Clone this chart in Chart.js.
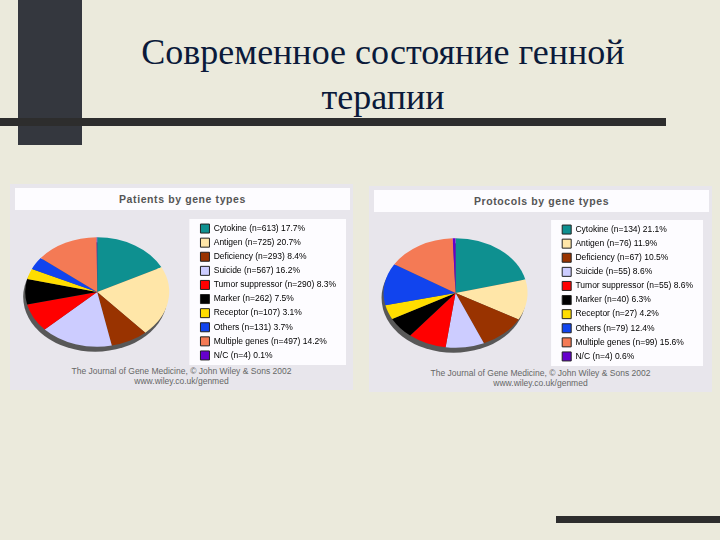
<!DOCTYPE html>
<html>
<head>
<meta charset="utf-8">
<script src="https://cdn.jsdelivr.net/npm/chart.js@4"></script>
<style>
  body { margin:0; width:720px; height:540px; background:#ebeadc; position:relative; overflow:hidden; font-family:"Liberation Sans", Arial, sans-serif; }
  .bar { position:absolute; background:#2d2d2d; }
  .title { position:absolute; left:100px; width:566px; top:30px; text-align:center; font-family:"Liberation Serif","Times New Roman",serif; font-size:36px; line-height:45px; color:#0b1a3a; }
  .panel { position:absolute; background:#e8e6ec; width:343px; height:206px; }
  .head { position:absolute; left:5px; right:3px; top:4px; height:22px; background:#fdfcff; text-align:center; font-weight:bold; font-size:10.5px; line-height:22px; color:#555; letter-spacing:0.6px; }
  .foot { position:absolute; left:0; right:0; bottom:4px; text-align:center; font-size:8.5px; line-height:10px; color:#666; }
  canvas { position:absolute; }
</style>
</head>
<body>
<div class="bar" style="left:18px;top:0;width:64px;height:145px;background:#34373e"></div>
<div class="bar" style="left:0;top:118px;width:666px;height:8px"></div>
<div class="bar" style="left:556px;top:516px;width:164px;height:7px"></div>
<div class="title">Современное состояние генной<br>терапии</div>

<div class="panel" style="left:10px;top:184px">
  <div class="head">Patients by gene types</div>
  <div class="foot">The Journal of Gene Medicine, © John Wiley &amp; Sons 2002<br>www.wiley.co.uk/genmed</div>
</div>
<div class="panel" style="left:369px;top:186px">
  <div class="head">Protocols by gene types</div>
  <div class="foot">The Journal of Gene Medicine, © John Wiley &amp; Sons 2002<br>www.wiley.co.uk/genmed</div>
</div>
<canvas id="left" width="347" height="152" style="left:-1px;top:216px"></canvas>
<canvas id="right" width="349" height="152" style="left:354px;top:217px"></canvas>

<script>
let geneTypes = ['Cytokine','Antigen','Deficiency','Suicide','Tumor suppressor','Marker','Receptor','Others','Multiple genes','N/C'];
let geneColors = ['#0e9090','#ffe6a8','#993300','#ccccff','#ff0000','#000000','#ffdd00','#1144ee','#f47a55','#6600cc'];

let patientsN = [613,725,293,567,290,262,107,131,497,4];
let patientsPct = ['17.7','20.7','8.4','16.2','8.3','7.5','3.1','3.7','14.2','0.1'];

let protocolsN = [134,76,67,55,55,40,27,79,99,4];
let protocolsPct = ['21.1','11.9','10.5','8.6','8.6','6.3','4.2','12.4','15.6','0.6'];

const squash = 0.76;

// tilted pie + shadow + white legend box
const pieLook = {
  id: 'pieLook',
  beforeDraw(chart) {
    let l = chart.legend, c = chart.ctx;
    c.save();
    c.fillStyle = '#fdfcff';
    c.fillRect(l.left - 6, 3, l.width + 6, chart.height - 6);
    c.restore();
  },
  beforeDatasetsDraw(chart) {
    let arc = chart.getDatasetMeta(0).data[0], c = chart.ctx;
    c.save();
    c.translate(arc.x, arc.y);
    c.scale(1, squash);
    c.translate(-arc.x, -arc.y);
    c.fillStyle = '#585858';
    c.beginPath();
    c.arc(arc.x - 2, arc.y + 5 / squash, arc.outerRadius, 0, Math.PI * 2);
    c.fill();
  },
  afterDatasetsDraw(chart) {
    chart.ctx.restore();
  }
};

function makePie(id, counts, pcts) {
  new Chart(document.getElementById(id), {
    type: 'pie',
    data: {
      labels: geneTypes,
      datasets: [{ data: counts, backgroundColor: geneColors, borderWidth: 0, radius: 72 }]
    },
    options: {
      responsive: false,
      animation: false,
      layout: { padding: 0 },
      plugins: {
        tooltip: { enabled: false },
        legend: {
          position: 'right',
          labels: {
            boxWidth: 9, boxHeight: 9, padding: 5.1,
            color: '#333',
            font: { family: '"Liberation Sans", Arial, sans-serif', size: 8.5 },
            generateLabels: () => geneTypes.map((t, i) => ({
              text: t + ' (n=' + counts[i] + ') ' + pcts[i] + '%',
              fillStyle: geneColors[i], strokeStyle: '#222', lineWidth: 1,
              hidden: false, index: i
            }))
          }
        }
      }
    },
    plugins: [pieLook]
  });
}

makePie('left', patientsN, patientsPct);
makePie('right', protocolsN, protocolsPct);
</script>
</body>
</html>
